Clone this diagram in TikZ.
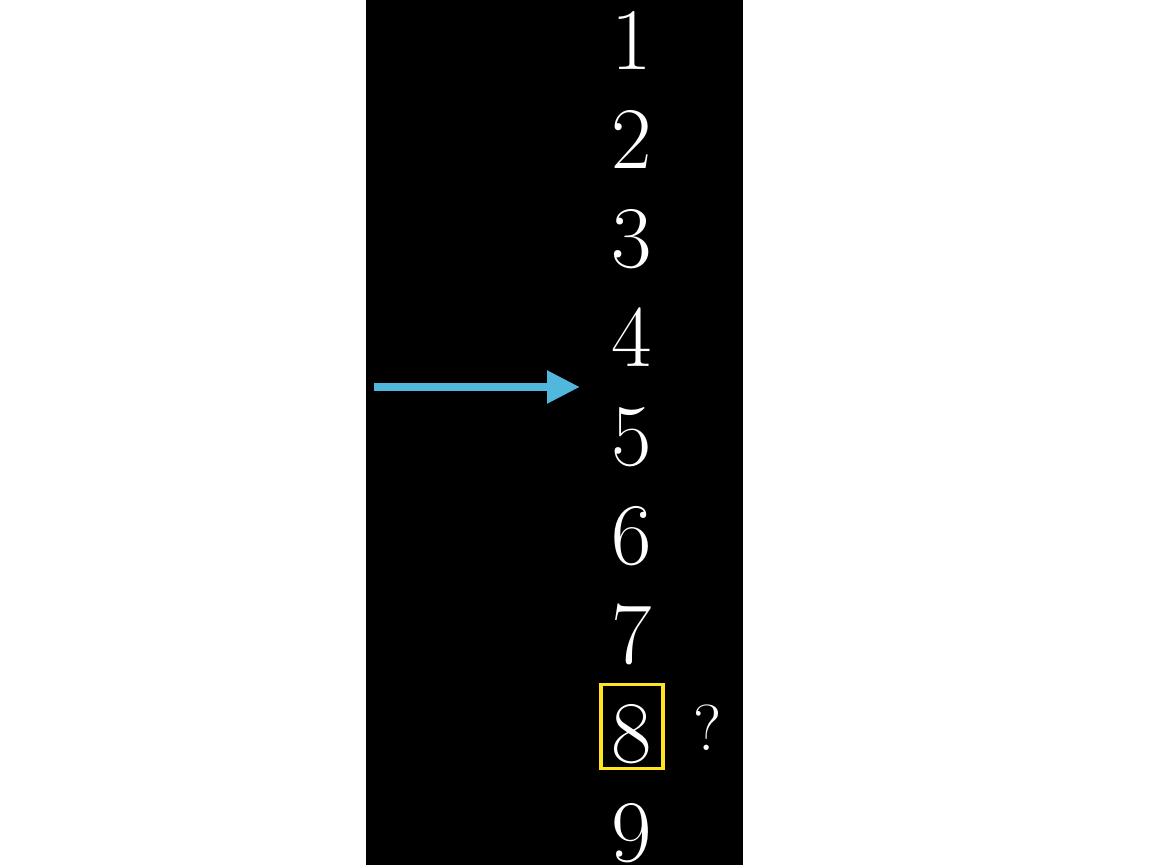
\documentclass[tikz,border=0pt]{standalone}
\usepackage{tikz}
\usetikzlibrary{positioning,arrows.meta,calc}
\definecolor{pointerblue}{RGB}{82,183,221}
\definecolor{markyellow}{RGB}{255,228,30}

\begin{document}
\begin{tikzpicture}[
  digit/.style={text=white, font=\fontsize{25}{30}\selectfont, anchor=base, inner sep=0pt},
  hilite/.style={draw=markyellow, line width=0.9pt, minimum width=0.62cm, minimum height=0.84cm, inner sep=0pt},
  pointer/.style={pointerblue, line width=2.3pt, -{Triangle[length=3.3mm, width=3.1mm]}}
]
\useasboundingbox (0,0) rectangle (11.52,8.65);
% Dark strip
\fill[black] (3.66,0) rectangle (7.43,8.65);
% Column of digits
\foreach \i in {1,...,9}
  \node[digit] (n\i) at (6.32, {7.96-0.99*(\i-1)}) {\i};
% Marked entry
\node[hilite] (hl) at ($(n8.center)+(0,0.07)$) {};
\node[digit, font=\fontsize{18.5}{22}\selectfont] (qm) at (7.08, 1.15) {?};
% Pointer
\coordinate (ptail) at (3.74, 4.78);
\coordinate (phead) at (5.80, 4.78);
\draw[pointer] (ptail) -- (phead);
\end{tikzpicture}
\end{document}
